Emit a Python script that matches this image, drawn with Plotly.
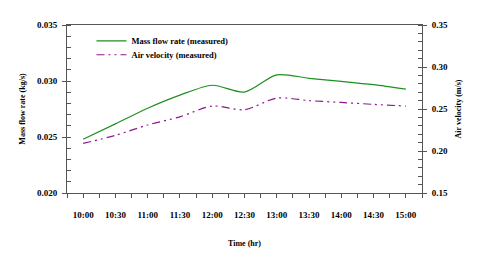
import plotly.graph_objects as go

times = ["10:00", "10:30", "11:00", "11:30", "12:00", "12:30", "13:00", "13:30", "14:00", "14:30", "15:00"]
mass_flow = [0.0248, 0.02617, 0.02757, 0.02874, 0.02962, 0.02901, 0.03055, 0.03024, 0.02997, 0.02967, 0.02927]
air_velocity = [0.209, 0.2186, 0.231, 0.2407, 0.2535, 0.2492, 0.263, 0.260, 0.2578, 0.2555, 0.2535]

xpos = list(range(len(times)))
font = "Liberation Serif"
axcol = "#555"

fig = go.Figure()
fig.add_trace(go.Scatter(x=xpos, y=mass_flow, mode="lines", name="<b>Mass flow rate (measured)</b>",
                         legend="legend",
                         line=dict(color="#1f8f1f", width=1.2, shape="spline", smoothing=0.8)))
fig.add_trace(go.Scatter(x=xpos, y=air_velocity, mode="lines", name="<b>Air velocity (measured)</b>", yaxis="y2",
                         legend="legend2",
                         line=dict(color="#8b1a8b", width=1.2, shape="spline", smoothing=0.8,
                                   dash="8px,4px,2px,4px,2px,4px")))

leg_common = dict(xanchor="left", yanchor="middle", bgcolor="rgba(0,0,0,0)",
                  font=dict(family=font, size=8.5), itemwidth=30)

fig.update_layout(
    width=480, height=256,
    margin=dict(l=59, r=66, t=14, b=71),
    paper_bgcolor="white", plot_bgcolor="white",
    font=dict(family=font, size=8, color="black"),
    showlegend=True,
    legend=dict(x=0.069, y=0.905, **leg_common),
    legend2=dict(x=0.069, y=0.823, **leg_common),
    xaxis=dict(range=[-0.5, 10.5], tickmode="array", tickvals=xpos, ticktext=["<b>%s</b>" % t for t in times],
               showgrid=False, zeroline=False, showline=True, linecolor=axcol, linewidth=1, mirror=True,
               ticks="outside", ticklen=4, tickcolor=axcol, ticklabelstandoff=9,
               minor=dict(dtick=0.5, tick0=-0.5, ticks="outside", ticklen=4, tickcolor=axcol),
               title=dict(text="<b>Time (hr)</b>", font=dict(family=font, size=8), standoff=21),
               tickfont=dict(family=font, size=9)),
    yaxis=dict(range=[0.020, 0.035], tickvals=[0.020, 0.025, 0.030, 0.035],
               ticktext=["<b>0.020</b>", "<b>0.025</b>", "<b>0.030</b>", "<b>0.035</b>"],
               showgrid=False, zeroline=False, showline=True, linecolor=axcol, linewidth=1,
               ticks="outside", ticklen=4, tickcolor=axcol, ticklabelstandoff=3,
               minor=dict(dtick=0.001, tick0=0.020, ticks="inside", ticklen=4, tickcolor=axcol),
               title=dict(text="<b>Mass flow rate (kg/s)</b>", font=dict(family=font, size=8), standoff=10),
               tickfont=dict(family=font, size=9)),
    yaxis2=dict(range=[0.15, 0.35], overlaying="y", side="right", tickvals=[0.15, 0.20, 0.25, 0.30, 0.35],
                ticktext=["<b>0.15</b>", "<b>0.20</b>", "<b>0.25</b>", "<b>0.30</b>", "<b>0.35</b>"],
                showgrid=False, zeroline=False, showline=True, linecolor=axcol, linewidth=1,
                ticks="outside", ticklen=4, tickcolor=axcol, ticklabelstandoff=3,
                minor=dict(dtick=0.01, tick0=0.15, ticks="inside", ticklen=4, tickcolor=axcol),
                title=dict(text="<b>Air velocity (m/s)</b>", font=dict(family=font, size=8), standoff=8),
                tickfont=dict(family=font, size=9)),
)

fig.write_html("out.html")
